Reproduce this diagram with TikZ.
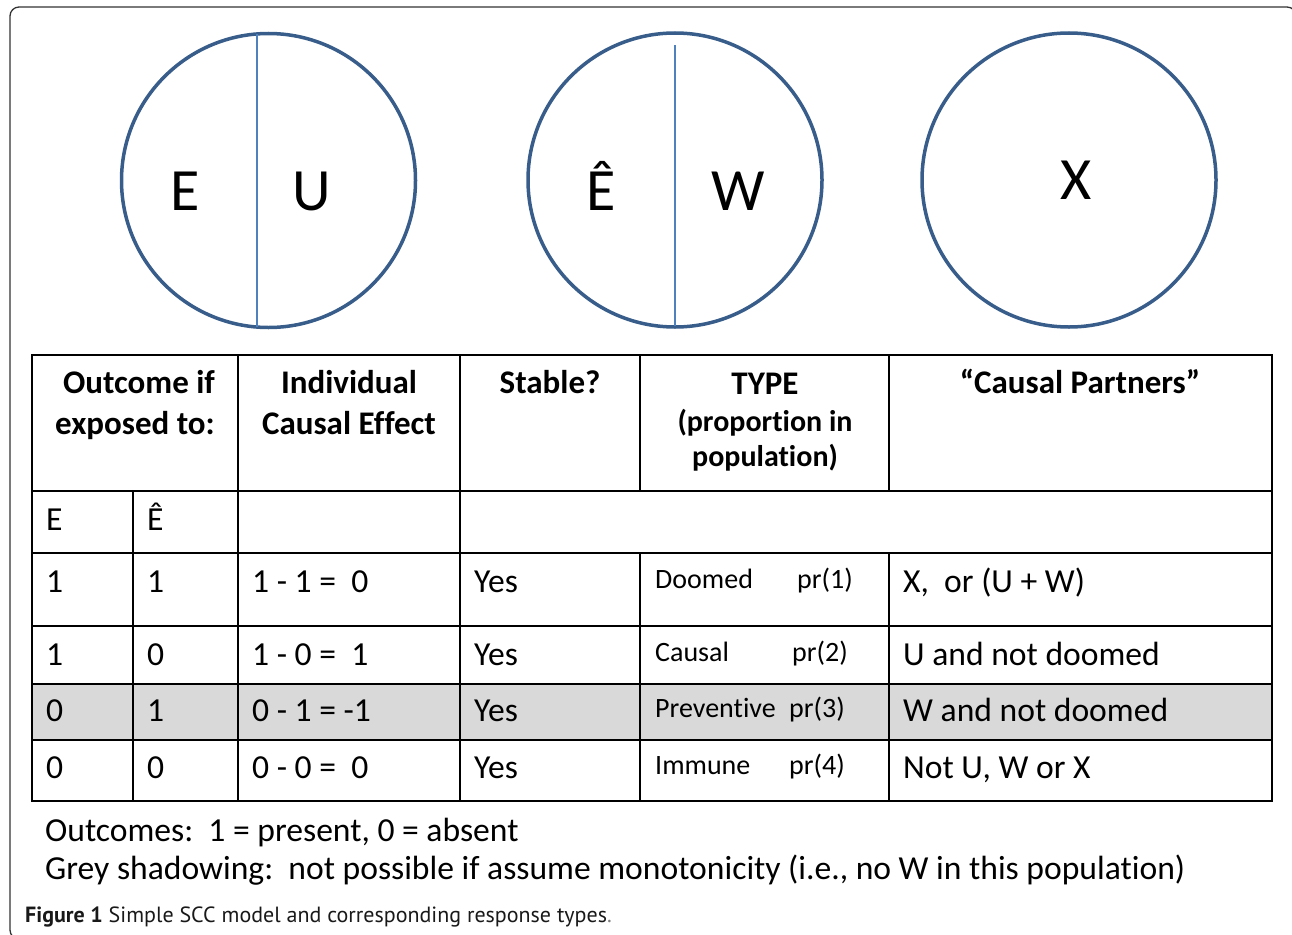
\documentclass[tikz,border=0pt]{standalone}
\usepackage{fontspec}
\setmainfont[Ligatures={TeX,NoCommon}]{Carlito}
\newfontfamily\capfont{PT Sans}
\usetikzlibrary{positioning}

\definecolor{ringblue}{HTML}{385D8A}
\definecolor{splitblue}{HTML}{4F81BD}
\definecolor{shadegray}{HTML}{D9D9D9}
\definecolor{framegray}{HTML}{333333}

\tikzset{
  ring/.style={draw=ringblue, line width=3.5pt},
  split/.style={draw=splitblue, line width=1.8pt},
  letter/.style={anchor=base, inner sep=0pt, font=\fontsize{60}{72}\selectfont},
  rule/.style={line width=2.6pt, line cap=rect},
  head/.style={anchor=base, inner sep=0pt, font=\bfseries\fontsize{33}{40}\selectfont},
  subhead/.style={anchor=base, inner sep=0pt, font=\bfseries\fontsize{30}{36}\selectfont},
  cell/.style={anchor=base west, inner sep=0pt, font=\fontsize{33.6}{40}\selectfont},
  small/.style={anchor=base west, inner sep=0pt, font=\fontsize{28}{34}\selectfont},
}

\begin{document}
\begin{tikzpicture}[x=1pt, y=-1pt]
    \useasboundingbox (0,0) rectangle (1292,934);
    % outer frame
    \draw[framegray, line width=1.3pt, rounded corners=9pt] (10,7) rectangle (1296,939);
    % sufficient causes
    \draw[ring] (268.5,180.5) circle (147pt);
    \draw[split] (257,34) -- (257,327);
    \node[letter] (lE) at (185,210) {E};
    \node[letter] (lU) at (312,210) {U};
    \draw[ring] (675,180) circle (147pt);
    \draw[split] (675,45) -- (675,326);
    \node[letter] (lEhat) at (601,210) {Ê};
    \node[letter] (lW) at (738,210) {W};
    \draw[ring] (1069,180) circle (147pt);
    \node[letter] (lX) at (1076,199) {X};
    % table
    \fill[shadegray] (32,684) rectangle (1272,740);
    \foreach \y in {355,491,553,626,684,740,801}
      \draw[rule] (32,\y) -- (1272,\y);
    \foreach \x in {32,238,460,1272}
      \draw[rule] (\x,355) -- (\x,801);
    \draw[rule] (133,491) -- (133,801);
    \foreach \x in {640,889} {
      \draw[rule] (\x,355) -- (\x,491);
      \draw[rule] (\x,553) -- (\x,801);
    }
    % header row
    \node[head] (hOut) at (139,393) {Outcome if};
    \node[head] (hExp) at (135,434) {exposed to:};
    \node[head] (hInd) at (349,393) {Individual};
    \node[head] (hEff) at (349,434) {Causal Effect};
    \node[head] (hSta) at (550,393) {Stable?};
    \node[head] (hTyp) at (765,394) {TYPE};
    \node[subhead] (hPro) at (765,431) {(proportion in};
    \node[subhead] (hPop) at (765,466) {population)};
    \node[head] (hPar) at (1080,393) {“Causal Partners”};
    \node[cell] (cE) at (46,530) {E};
    \node[cell] (cEhat) at (147,530) {Ê};
    % response types
    \foreach \y/\a/\b/\ice/\nm/\px/\pr/\who in {
        592/1/1/{1 - 1 =\ \ 0}/Doomed/797/pr(1)/{X,\ \ or (U + W)},
        665/1/0/{1 - 0 =\ \ 1}/Causal/792/pr(2)/{U and not doomed},
        721/0/1/{0 - 1 = -1}/Preventive/789/pr(3)/{W and not doomed},
        778/0/0/{0 - 0 =\ \ 0}/Immune/789/pr(4)/{Not U, W or X}} {
      \node[cell] (a\y) at (46,\y) {\a};
      \node[cell] (b\y) at (147,\y) {\b};
      \node[cell] (ice\y) at (252,\y) {\ice};
      \node[cell] (yes\y) at (474,\y) {Yes};
      \node[small] (typ\y) at (655,\y-4) {\nm};
      \node[small] (pr\y) at (\px,\y-4) {\pr};
      \node[cell] (who\y) at (903,\y) {\who};
    }
    % notes
    \node[cell] (note1) at (45,841) {Outcomes:\ \ 1 = present, 0 = absent};
    \node[cell] (note2) at (45,879) {Grey shadowing:\ \ not possible if assume monotonicity (i.e., no W in this population)};
    \node[anchor=base west, inner sep=0pt, font=\capfont\fontsize{22}{26}\selectfont, text=black!90] (caption) at (25,922)
      {\textbf{Figure 1} Simple SCC model and corresponding response types\textcolor{gray}{.}};
\end{tikzpicture}
\end{document}
